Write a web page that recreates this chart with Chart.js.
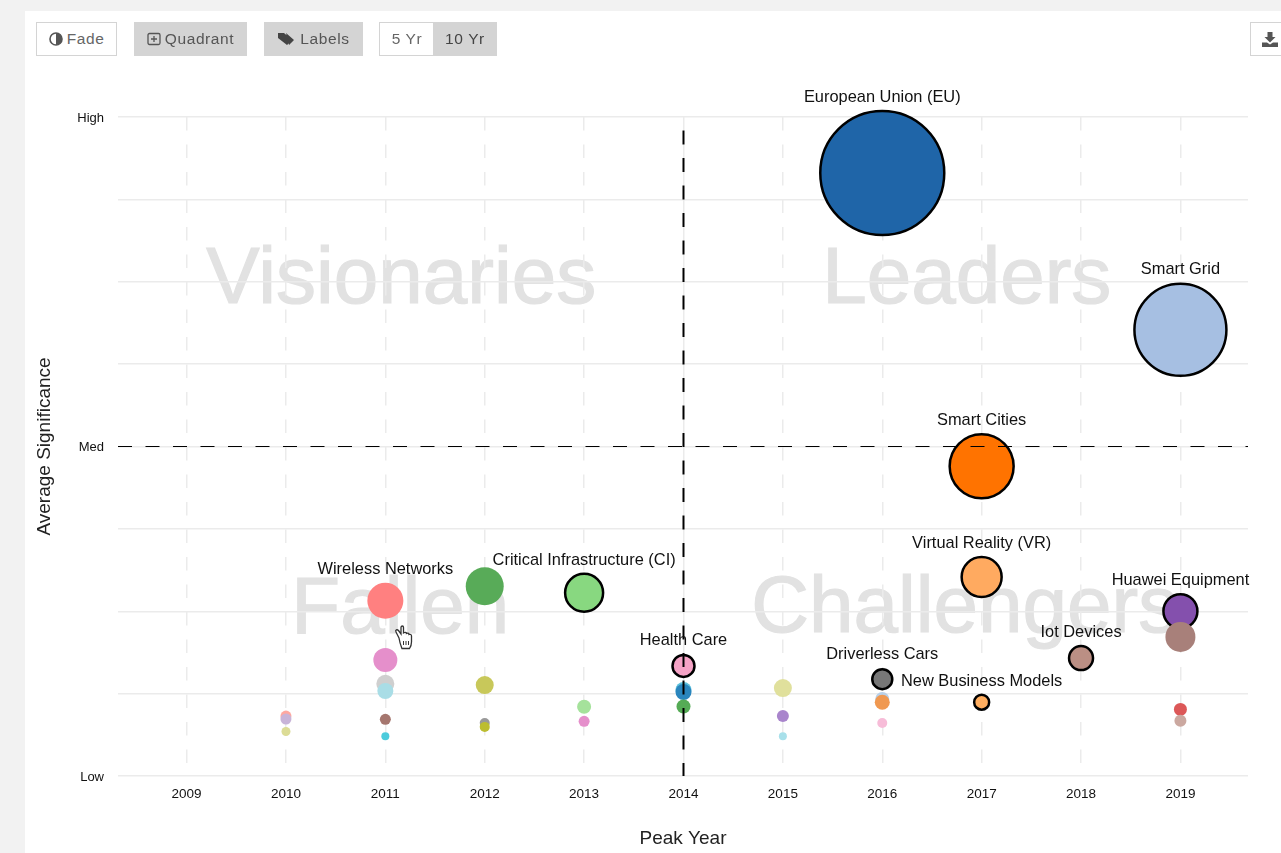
<!DOCTYPE html>
<html><head><meta charset="utf-8">
<script src="https://cdn.jsdelivr.net/npm/chart.js@4/dist/chart.umd.min.js"></script>
<style>
html,body{margin:0;padding:0;width:1281px;height:853px;overflow:hidden;background:#f2f2f2;font-family:"Liberation Sans",sans-serif}
#page{position:absolute;left:0;top:0;width:1281px;height:853px;filter:blur(.45px)}
#panel{position:absolute;left:25px;top:11px;width:1256px;height:842px;background:#fff}
#c{position:absolute;left:0;top:0}
.b{position:absolute;top:22px;height:34px;box-sizing:border-box;border:1.5px solid #d4d4d4;background:#fff;color:#666;font-size:15.5px;letter-spacing:.6px;display:flex;align-items:center;justify-content:center;gap:4px}
.on{background:#d4d4d4;color:#555}
svg{display:block}
#hand{position:absolute;left:393px;top:624px}
</style></head><body>
<div id="page">
<div id="panel"></div>
<canvas id="c" width="1281" height="853"></canvas>
<div class="b" style="left:36px;width:81px"><svg width="14" height="14" viewBox="0 0 14 14"><circle cx="7" cy="7" r="6" fill="#fff" stroke="#555" stroke-width="1.6"/><path d="M7 1a6 6 0 0 1 0 12z" fill="#555"/></svg>Fade</div>
<div class="b on" style="left:134px;width:113px"><svg width="14" height="14" viewBox="0 0 14 14"><rect x="1" y="1.5" width="12" height="11" rx="1.5" fill="none" stroke="#555" stroke-width="1.3"/><path d="M7 4v6M4 7h6" stroke="#555" stroke-width="1.3"/></svg>Quadrant</div>
<div class="b on" style="left:264px;width:99px"><svg width="19" height="14" viewBox="0 0 19 14"><path d="M1 1h6l8 7-5 5-9-7zM9 1l8 7-5 5" fill="#444"/></svg>Labels</div>
<div class="b" style="left:379px;width:55px;border-right:0">5 Yr</div>
<div class="b on" style="left:433px;width:64px;color:#444">10 Yr</div>
<div class="b" style="left:1250px;width:35px;justify-content:flex-start;padding-left:11px"><svg width="16" height="15" viewBox="0 0 16 15"><path d="M5.500 0h5v5h3L8 10.500 2.500 5h3zM0 10.500h5l3 2 3-2h5V15H0z" fill="#555"/></svg></div>
<svg id="hand" width="24" height="28" viewBox="0 0 24 28"><path d="M6 14 3 8c-1-2 1-3 2.500-1.500L8 10V3.500C8 1.500 10.500 1.500 10.500 3.500V9l1-.5c1.500-.5 2 .5 2 1 1-.5 2.500-.5 2.500 1 1-.5 2.500 0 2.500 1.500V18c0 3-1 5-2 6.500H9C8 22 7 20 6 14z" fill="#fff" stroke="#333" stroke-width="1.3"/><path d="M10.500 17v4M13 17v4M15.500 17v4" stroke="#333" stroke-width="1"/></svg>
</div>
<script>
const yearTicks = [2009,2010,2011,2012,2013,2014,2015,2016,2017,2018,2019];
const levelTicks = [0,12.5,25,37.5,50,62.5,75,87.5,100];
const levelNames = {0:"Low",50:"Med",100:"High"};
const peakYears = [2016,2019,2017,2017,2019,2019,2018,2011,2012,2013,2014,2016,2017,2011,2011,2011,2012,2014,2014,2014,2015,2013,2013,2010,2010,2010,2011,2011,2012,2012,2015,2015,2016,2016,2016,2019,2019];
const significance = [91.5,67.7,47.0,30.2,25.0,21.1,17.9,26.6,28.8,27.8,16.7,14.7,11.2,17.6,14.0,12.9,13.8,13.05,12.75,10.55,13.35,10.5,8.3,9.1,8.65,6.75,8.6,6.05,8.05,7.45,9.1,6.05,11.7,11.2,8.05,10.1,8.4];
const volumes = [62,46,32,20,17,15,12,18,19,19,11,10,7.5,12,9,8,9,8,8,7,9,7,5.5,5.5,5.5,4.5,5.5,4,5,5,6,4,7,7.5,5,6.5,6];
const fills = ["#1f65a8","#a6bfe2","#ff7300","#ffaa60","#8450ad","#a8807a","#bb8f84","#ff8080","#58ab58","#88d880","#f5a3c6","#777777","#ffae60","#e58fcb","#cfcfcf","#a9dde6","#c8c85a","#5cc0dc","#2a85bd","#55ab55","#e0e09c","#a5e29b","#e58fcb","#ffa8a0","#c8b4d8","#dcdc96","#a5766e","#4ccbdc","#999999","#bcbd30","#a985cc","#a8e0ea","#b8d0e8","#f09850","#f7bcd8","#dc5858","#cba8a0"];
const outlined = [1,1,1,1,1,0,1,0,0,1,1,1,1,0,0,0,0,0,0,0,0,0,0,0,0,0,0,0,0,0,0,0,0,0,0,0,0];
const labelTexts = ["European Union (EU)","Smart Grid","Smart Cities","Virtual Reality (VR)","Huawei Equipment","Iot Devices","Wireless Networks","Critical Infrastructure (CI)","Health Care","Driverless Cars","New Business Models"];
const labelIndex = [0,1,2,3,4,6,7,9,10,11,12];
const labelGap = [76,60,46,33,31,26,31,32,25,25,21];
const quadrantNames = ["Visionaries","Leaders","Fallen","Challengers"];
const quadrantYears = [2011.16,2016.85,2011.15,2016.83];
const quadrantLevels = [71.8,71.8,21.7,21.8];

const overlay = {
  id:"overlay",
  beforeDraw(chart){
    const {ctx} = chart;
    const x = chart.scales.x, y = chart.scales.y;
    ctx.save();
    ctx.font = '80px "Liberation Sans"';
    ctx.fillStyle = "#e2e2e2"; ctx.strokeStyle = "#e2e2e2"; ctx.lineWidth = 1.2;
    ctx.textAlign = "center"; ctx.textBaseline = "alphabetic";
    quadrantNames.forEach((t,i)=>{
      const px = x.getPixelForValue(quadrantYears[i]), py = y.getPixelForValue(quadrantLevels[i]);
      ctx.fillText(t,px,py); ctx.strokeText(t,px,py);
    });
    ctx.restore();
  },
  afterDatasetsDraw(chart){
    const {ctx,chartArea:a,scales:{x,y}} = chart;
    ctx.save();
    ctx.strokeStyle = "#000";
    ctx.lineWidth = 1.2; ctx.setLineDash([14,13.5]);
    ctx.beginPath(); ctx.moveTo(a.left,y.getPixelForValue(50)); ctx.lineTo(a.right,y.getPixelForValue(50)); ctx.stroke();
    ctx.lineWidth = 2;
    ctx.beginPath(); ctx.moveTo(x.getPixelForValue(2014),a.top+13.5); ctx.lineTo(x.getPixelForValue(2014),a.bottom); ctx.stroke();
    ctx.setLineDash([]);
    ctx.font = '16.4px "Liberation Sans"';
    ctx.fillStyle = "#111";
    ctx.textAlign = "center"; ctx.textBaseline = "middle";
    labelTexts.forEach((t,i)=>{
      const k = labelIndex[i];
      ctx.fillText(t,x.getPixelForValue(peakYears[k]),y.getPixelForValue(significance[k])-labelGap[i]);
    });
    ctx.restore();
  }
};

new Chart(document.getElementById("c"),{
  type:"bubble",
  data:{datasets:[{
    data:peakYears.map((v,i)=>({x:v,y:significance[i],r:volumes[i]})),
    backgroundColor:fills,
    borderColor:outlined.map(o=>o?"#000":"rgba(0,0,0,0)"),
    borderWidth:outlined.map(o=>o?2.5:0),
    hoverRadius:0,
    clip:false
  }]},
  options:{
    responsive:false,animation:false,
    layout:{autoPadding:false,padding:{left:0,right:33,top:117,bottom:0}},
    plugins:{legend:{display:false},tooltip:{enabled:false}},
    scales:{
      x:{type:"linear",min:2008.31,max:2019.68,
        afterBuildTicks(s){s.ticks=yearTicks.map(v=>({value:v}));},
        afterFit(s){s.height=77;s.paddingLeft=0;s.paddingRight=0;},
        ticks:{autoSkip:false,maxRotation:0,padding:10,color:"#111",font:{family:"Liberation Sans",size:13.5},callback:v=>String(v)},
        grid:{color:"#ebebeb",lineWidth:1.5,drawTicks:false},
        border:{display:false,dash:[13.5,14]},
        title:{display:true,text:"Peak Year",color:"#222",font:{family:"Liberation Sans",size:19},padding:{top:0,bottom:3}}
      },
      y:{type:"linear",min:0,max:100,
        afterBuildTicks(s){s.ticks=levelTicks.map(v=>({value:v}));},
        afterFit(s){s.width=118;s.paddingTop=0;s.paddingBottom=0;},
        ticks:{autoSkip:false,padding:14,labelOffset:1,color:"#111",font:{family:"Liberation Sans",size:13},callback:v=>levelNames[v]||""},
        grid:{color:"#ebebeb",lineWidth:1.5,drawTicks:false},
        border:{display:false},
        title:{display:true,text:"Average Significance",color:"#222",font:{family:"Liberation Sans",size:19},padding:{top:33,bottom:0}}
      }
    }
  },
  plugins:[overlay]
});
</script>
</body></html>
